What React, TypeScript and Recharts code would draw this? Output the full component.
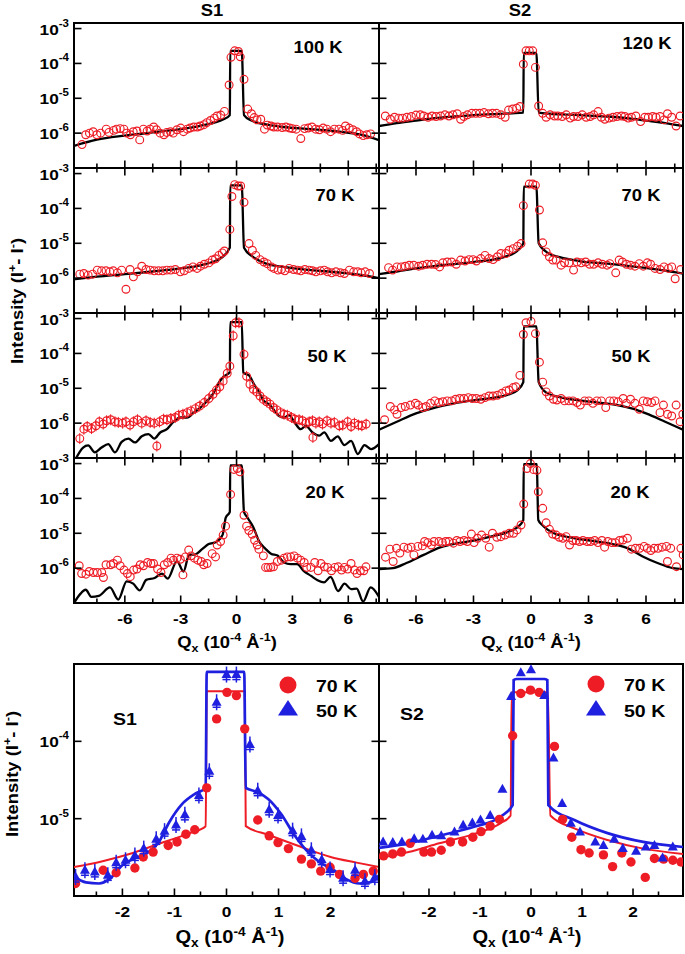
import React from "react";
import { ComposedChart, Line, Scatter, XAxis, YAxis, ReferenceArea } from "recharts";

const FONT = "'Liberation Sans', Arial, Helvetica, sans-serif";
const RED = "#ee1c25";
const BLUE = "#1f1fe0";
const SX = 1.15; // lettering in the original is a little wide

// ---------- S1, 100 K ----------
const s1_100K_qx = [-8.3, -8.1, -7.9, -7.7, -7.5, -7.3, -7.0, -6.85, -6.6, -6.45, -6.25, -6.05, -5.9, -5.7, -5.55, -5.35, -5.2, -5.0, -4.8, -4.65, -4.45, -4.3, -4.1, -3.9, -3.75, -3.55, -3.4, -3.2, -3.0, -2.85, -2.65, -2.5, -2.3, -2.1, -1.95, -1.75, -1.6, -1.4, -1.2, -1.05, -0.85, -0.65, -0.4, -0.3, -0.1, 0.1, 0.2, 0.4, 0.6, 0.8, 0.95, 1.1, 1.3, 1.5, 1.65, 1.85, 2.0, 2.2, 2.45, 2.65, 2.85, 3.0, 3.2, 3.45, 3.65, 3.85, 4.05, 4.25, 4.45, 4.65, 4.85, 5.05, 5.25, 5.5, 5.7, 5.85, 6.05, 6.25, 6.45, 6.6, 6.8, 7.0, 7.2];
const s1_100K_int = [4.7e-7, 9e-7, 1.0e-6, 1.1e-6, 9e-7, 1.0e-6, 1.3e-6, 1.05e-6, 1.2e-6, 1.3e-6, 1.35e-6, 1.3e-6, 1.0e-6, 9e-7, 1.1e-6, 1.15e-6, 6.4e-7, 1.3e-6, 1.15e-6, 1.3e-6, 1.5e-6, 1.25e-6, 1.0e-6, 9e-7, 1.05e-6, 1.1e-6, 1.0e-6, 1.25e-6, 1.4e-6, 1.1e-6, 1.3e-6, 1.4e-6, 1.5e-6, 1.5e-6, 1.6e-6, 1.75e-6, 2.0e-6, 2.3e-6, 2.7e-6, 3.1e-6, 3.3e-6, 4.2e-6, 2.4e-5, 1.5e-4, 2.3e-4, 2.2e-4, 1.55e-4, 3.5e-5, 4.9e-6, 3.6e-6, 2.8e-6, 2.4e-6, 2.5e-6, 1.3e-6, 1.7e-6, 1.6e-6, 1.5e-6, 1.5e-6, 1.45e-6, 1.5e-6, 1.4e-6, 1.35e-6, 1.3e-6, 7e-7, 1.35e-6, 1.4e-6, 1.5e-6, 1.3e-6, 1.25e-6, 1.4e-6, 1.3e-6, 1.1e-6, 1.3e-6, 1.3e-6, 1.2e-6, 1.6e-6, 1.4e-6, 1.25e-6, 1.1e-6, 9.5e-7, 8.5e-7, 9e-7, 9.5e-7];
const s1_100K_fitQx = [-8.73, -7.5, -6, -4.5, -3, -2, -1.2, -0.7, -0.36, -0.34, 0.28, 0.4, 0.8, 1.5, 2.5, 4, 5.5, 6.8, 7.65];
const s1_100K_fit = [4.3e-7, 6.5e-7, 8.5e-7, 1.05e-6, 1.3e-6, 1.6e-6, 2.0e-6, 2.5e-6, 3.3e-6, 2.3e-4, 2.3e-4, 3.3e-6, 2.3e-6, 1.8e-6, 1.5e-6, 1.3e-6, 1.1e-6, 8.8e-7, 6.3e-7];

// ---------- S2, 120 K ----------
const s2_120K_qx = [-7.6, -7.34, -7.12, -6.9, -6.7, -6.47, -6.24, -6.0, -5.77, -5.6, -5.37, -5.16, -4.95, -4.72, -4.49, -4.28, -4.07, -3.85, -3.67, -3.5, -3.32, -3.09, -2.88, -2.67, -2.45, -2.22, -2.01, -1.8, -1.57, -1.35, -1.17, -0.96, -0.75, -0.58, -0.4, -0.26, -0.09, 0.09, 0.23, 0.4, 0.61, 0.79, 1.0, 1.22, 1.4, 1.63, 1.84, 2.05, 2.22, 2.45, 2.67, 2.88, 3.09, 3.27, 3.5, 3.67, 3.85, 4.07, 4.28, 4.49, 4.72, 4.9, 5.07, 5.24, 5.47, 5.72, 5.94, 6.12, 6.35, 6.52, 6.73, 6.94, 7.12, 7.34, 7.57, 7.78];
const s2_120K_int = [3.1e-6, 2.5e-6, 2.85e-6, 2.7e-6, 2.7e-6, 2.85e-6, 3.0e-6, 3.3e-6, 3.35e-6, 3.1e-6, 2.85e-6, 3.1e-6, 3.0e-6, 3.1e-6, 3.35e-6, 3.1e-6, 3.35e-6, 3.6e-6, 2.5e-6, 3.0e-6, 3.35e-6, 3.7e-6, 3.7e-6, 3.7e-6, 3.9e-6, 3.6e-6, 3.7e-6, 3.7e-6, 3.35e-6, 2.85e-6, 4.6e-6, 4.9e-6, 5.2e-6, 5.8e-6, 9.5e-5, 2.3e-4, 2.3e-4, 2.3e-4, 7.7e-5, 6.0e-6, 3.7e-6, 2.85e-6, 3.35e-6, 3.1e-6, 3.1e-6, 3.0e-6, 3.35e-6, 2.7e-6, 3.0e-6, 3.0e-6, 3.35e-6, 2.85e-6, 3.0e-6, 3.35e-6, 4.15e-6, 2.85e-6, 2.5e-6, 2.7e-6, 2.85e-6, 3.0e-6, 3.1e-6, 3.0e-6, 2.7e-6, 2.85e-6, 3.1e-6, 2.15e-6, 2.85e-6, 2.85e-6, 3.0e-6, 2.85e-6, 3.0e-6, 2.4e-6, 3.6e-6, 2.85e-6, 1.6e-6, 3.1e-6];
const s2_120K_fitQx = [-7.93, -7, -6, -5, -4, -3, -2, -1, -0.4, -0.38, 0.28, 0.4, 1, 2, 3, 4, 5, 6, 7, 7.93];
const s2_120K_fit = [1.6e-6, 1.95e-6, 2.3e-6, 2.7e-6, 3.0e-6, 3.3e-6, 3.5e-6, 3.7e-6, 3.9e-6, 2.0e-4, 2.0e-4, 3.9e-6, 3.6e-6, 3.4e-6, 3.2e-6, 3.0e-6, 2.7e-6, 2.3e-6, 1.95e-6, 1.6e-6];

// ---------- S1, 70 K ----------
const s1_70K_qx = [-8.42, -8.2, -7.97, -7.73, -7.48, -7.25, -7.01, -6.8, -6.62, -6.4, -6.17, -5.94, -5.72, -5.54, -5.32, -5.09, -4.86, -4.64, -4.42, -4.19, -3.96, -3.74, -3.53, -3.29, -3.02, -2.81, -2.57, -2.34, -2.12, -1.94, -1.73, -1.49, -1.31, -1.13, -0.95, -0.77, -0.65, -0.36, -0.25, -0.1, 0.08, 0.22, 0.4, 0.67, 0.85, 1.03, 1.26, 1.47, 1.65, 1.87, 2.01, 2.23, 2.41, 2.59, 2.82, 3.06, 3.27, 3.45, 3.67, 3.9, 4.08, 4.26, 4.5, 4.71, 4.89, 5.11, 5.34, 5.58, 5.79, 6.06, 6.29, 6.51, 6.69, 6.91, 7.14];
const s1_70K_int = [1.3e-6, 1.36e-6, 1.22e-6, 1.3e-6, 1.7e-6, 1.62e-6, 1.62e-6, 1.52e-6, 1.62e-6, 1.42e-6, 1.7e-6, 4.8e-7, 1.77e-6, 1.09e-6, 1.52e-6, 2.2e-6, 1.77e-6, 1.7e-6, 1.62e-6, 1.62e-6, 1.62e-6, 1.7e-6, 1.7e-6, 1.77e-6, 1.52e-6, 1.62e-6, 1.9e-6, 2.1e-6, 1.9e-6, 2.2e-6, 2.5e-6, 2.74e-6, 3.3e-6, 3.6e-6, 4.5e-6, 5.3e-6, 6.0e-6, 2.5e-5, 2.2e-4, 4.8e-4, 4.4e-4, 4.4e-4, 1.5e-4, 9.8e-6, 6.3e-6, 4.5e-6, 3.4e-6, 2.9e-6, 2.6e-6, 2.1e-6, 1.9e-6, 1.7e-6, 1.77e-6, 1.62e-6, 1.9e-6, 1.77e-6, 1.7e-6, 1.62e-6, 1.77e-6, 1.7e-6, 1.62e-6, 1.52e-6, 1.62e-6, 1.7e-6, 1.52e-6, 1.42e-6, 1.52e-6, 1.42e-6, 1.36e-6, 1.7e-6, 1.52e-6, 1.52e-6, 1.42e-6, 1.52e-6, 1.36e-6];
const s1_70K_fitQx = [-8.73, -7.5, -6, -4.5, -3, -2, -1.3, -0.8, -0.36, -0.34, 0.28, 0.4, 0.9, 1.6, 2.5, 4, 5.5, 6.8, 7.65];
const s1_70K_fit = [9.3e-7, 1.1e-6, 1.3e-6, 1.55e-6, 1.9e-6, 2.3e-6, 2.9e-6, 3.9e-6, 7.5e-6, 4.6e-4, 4.6e-4, 7.5e-6, 4.0e-6, 2.6e-6, 2.1e-6, 1.7e-6, 1.45e-6, 1.2e-6, 1.0e-6];

// ---------- S2, 70 K ----------
const s2_70K_qx = [-7.43, -7.22, -6.99, -6.77, -6.56, -6.35, -6.12, -5.86, -5.65, -5.42, -5.19, -4.98, -4.77, -4.6, -4.37, -4.14, -3.9, -3.67, -3.44, -3.23, -3.02, -2.85, -2.62, -2.4, -2.19, -1.98, -1.75, -1.57, -1.31, -1.14, -0.93, -0.7, -0.52, -0.4, -0.09, 0.09, 0.23, 0.44, 0.61, 0.79, 0.96, 1.14, 1.31, 1.57, 1.75, 1.98, 2.22, 2.4, 2.62, 2.85, 3.06, 3.27, 3.5, 3.72, 3.97, 4.11, 4.42, 4.6, 4.77, 4.98, 5.19, 5.42, 5.65, 5.86, 6.07, 6.24, 6.47, 6.73, 6.94, 7.17, 7.34, 7.52, 7.81];
const s2_70K_int = [2.0e-6, 1.7e-6, 2.1e-6, 2.1e-6, 2.2e-6, 2.35e-6, 2.35e-6, 2.2e-6, 2.35e-6, 2.5e-6, 2.5e-6, 2.45e-6, 2.1e-6, 2.75e-6, 2.9e-6, 2.9e-6, 2.5e-6, 3.3e-6, 3.1e-6, 3.4e-6, 3.4e-6, 3.1e-6, 3.65e-6, 4.5e-6, 3.65e-6, 3.4e-6, 4.1e-6, 5.1e-6, 5.1e-6, 6.3e-6, 7.0e-6, 8.2e-6, 9.8e-6, 1.2e-4, 5.0e-4, 5.0e-4, 4.6e-4, 9.0e-5, 1.03e-5, 5.65e-6, 4.1e-6, 3.3e-6, 3.3e-6, 2.35e-6, 2.75e-6, 2.75e-6, 1.7e-6, 2.9e-6, 2.75e-6, 2.9e-6, 2.5e-6, 2.5e-6, 2.75e-6, 2.5e-6, 2.35e-6, 2.6e-6, 1.42e-6, 3.3e-6, 2.9e-6, 2.5e-6, 2.35e-6, 2.2e-6, 2.6e-6, 2.2e-6, 2.75e-6, 2.5e-6, 1.9e-6, 1.77e-6, 2.1e-6, 1.9e-6, 2.1e-6, 9.6e-7, 1.77e-6];
const s2_70K_fitQx = [-7.93, -7, -6, -4.5, -3, -2, -1.3, -0.8, -0.4, -0.38, 0.28, 0.4, 0.9, 1.5, 2.5, 4, 5.5, 6.8, 7.93];
const s2_70K_fit = [1.3e-6, 1.55e-6, 1.9e-6, 2.4e-6, 2.9e-6, 3.4e-6, 4.2e-6, 5.6e-6, 1.0e-5, 4.2e-4, 4.2e-4, 1.0e-5, 5.2e-6, 4.0e-6, 3.1e-6, 2.6e-6, 2.1e-6, 1.7e-6, 1.35e-6];

// ---------- S1, 50 K ----------
const s1_50K_qx = [-8.42, -8.2, -8.02, -7.79, -7.55, -7.37, -7.16, -6.98, -6.76, -6.53, -6.35, -6.12, -5.94, -5.72, -5.54, -5.32, -5.09, -4.86, -4.64, -4.42, -4.28, -4.14, -3.92, -3.74, -3.53, -3.29, -3.11, -2.88, -2.66, -2.45, -2.21, -1.98, -1.73, -1.49, -1.26, -1.08, -0.9, -0.72, -0.5, -0.36, -0.18, -0.05, 0.13, 0.4, 0.54, 0.72, 0.9, 1.08, 1.26, 1.44, 1.62, 1.8, 1.98, 2.16, 2.37, 2.55, 2.73, 2.95, 3.13, 3.36, 3.54, 3.72, 3.9, 4.08, 4.1, 4.26, 4.44, 4.62, 4.86, 5.07, 5.25, 5.52, 5.7, 5.97, 6.15, 6.33, 6.55, 6.73, 6.96];
const s1_50K_int = [3.6e-7, 6.7e-7, 8.0e-7, 7.0e-7, 8.4e-7, 1.09e-6, 9.4e-7, 1.17e-6, 1.25e-6, 1.09e-6, 1.05e-6, 1.0e-6, 1.09e-6, 8.8e-7, 1.09e-6, 1.25e-6, 1.0e-6, 1.17e-6, 1.05e-6, 1.0e-6, 2.2e-7, 1.09e-6, 1.3e-6, 1.25e-6, 1.36e-6, 1.45e-6, 1.69e-6, 1.8e-6, 2.0e-6, 2.25e-6, 2.6e-6, 3.1e-6, 3.9e-6, 5.1e-6, 6.7e-6, 8.9e-6, 1.1e-5, 1.6e-5, 2.7e-5, 4.3e-5, 3.2e-4, 7.6e-4, 7.6e-4, 9.4e-5, 2.2e-5, 1.3e-5, 9.4e-6, 7.9e-6, 6.0e-6, 4.8e-6, 4.1e-6, 3.5e-6, 2.8e-6, 2.4e-6, 2.0e-6, 1.8e-6, 1.69e-6, 1.45e-6, 1.3e-6, 1.25e-6, 1.17e-6, 1.0e-6, 1.09e-6, 1.17e-6, 3.9e-7, 1.0e-6, 1.09e-6, 9.4e-7, 1.17e-6, 1.0e-6, 1.05e-6, 8.4e-7, 8.8e-7, 1.09e-6, 8.0e-7, 1.0e-6, 8.8e-7, 8.4e-7, 9.4e-7];
const s1_50K_fitQx = [-8.73, -8.24, -7.97, -7.61, -7.25, -6.89, -6.53, -6.17, -5.81, -5.45, -5.09, -4.73, -4.42, -4.1, -3.74, -3.38, -3.02, -2.66, -2.3, -1.94, -1.58, -1.22, -0.95, -0.68, -0.36, -0.34, 0.28, 0.36, 0.67, 0.94, 1.2, 1.47, 1.74, 2.01, 2.28, 2.55, 2.82, 3.09, 3.45, 3.72, 4.08, 4.44, 4.71, 5.07, 5.43, 5.79, 6.15, 6.51, 6.87, 7.23, 7.65];
const s1_50K_fit = [7.6e-8, 2.0e-7, 2.3e-7, 1.45e-7, 2.0e-7, 2.5e-7, 1.45e-7, 2.9e-7, 3.6e-7, 2.8e-7, 4.2e-7, 4.85e-7, 3.6e-7, 5.4e-7, 6.7e-7, 1.1e-6, 1.45e-6, 1.45e-6, 2.0e-6, 2.8e-6, 4.3e-6, 7.5e-6, 1.45e-5, 2.2e-5, 2.9e-5, 7.9e-4, 7.9e-4, 2.8e-5, 2.35e-5, 1.3e-5, 7.9e-6, 4.3e-6, 3.5e-6, 2.4e-6, 1.6e-6, 1.45e-6, 1.7e-6, 1.1e-6, 6.7e-7, 8.4e-7, 5.4e-7, 4.4e-7, 5.4e-7, 3.1e-7, 4.2e-7, 2.35e-7, 3.1e-7, 1.3e-7, 2.35e-7, 1.8e-7, 2.5e-7];

// ---------- S2, 50 K ----------
const s2_50K_qx = [-7.64, -7.34, -7.12, -6.99, -6.77, -6.56, -6.29, -6.03, -5.89, -5.65, -5.47, -5.24, -5.02, -4.81, -4.6, -4.37, -4.14, -3.93, -3.72, -3.5, -3.27, -3.06, -2.85, -2.62, -2.4, -2.19, -1.98, -1.75, -1.52, -1.31, -1.14, -0.93, -0.79, -0.58, -0.4, -0.26, 0.0, 0.23, 0.44, 0.61, 0.79, 0.96, 1.17, 1.35, 1.57, 1.75, 1.98, 2.19, 2.4, 2.57, 2.8, 3.02, 3.23, 3.44, 3.67, 3.9, 4.11, 4.32, 4.55, 4.81, 4.98, 5.19, 5.42, 5.65, 5.86, 6.07, 6.29, 6.47, 6.73, 6.91, 7.12, 7.34, 7.57, 7.78, 7.92];
const s2_50K_int = [1.25e-6, 3.0e-6, 2.4e-6, 1.8e-6, 2.8e-6, 3.0e-6, 3.3e-6, 3.7e-6, 3.3e-6, 2.8e-6, 3.0e-6, 3.7e-6, 4.35e-6, 3.9e-6, 4.1e-6, 4.35e-6, 4.35e-6, 4.85e-6, 5.1e-6, 5.1e-6, 5.4e-6, 5.1e-6, 5.1e-6, 4.85e-6, 5.4e-6, 6.0e-6, 6.0e-6, 6.3e-6, 7.2e-6, 8.4e-6, 8.9e-6, 1.05e-5, 1.1e-5, 2.35e-5, 3.5e-4, 7.6e-4, 8.3e-4, 3.7e-4, 5.6e-5, 1.5e-5, 7.9e-6, 6.0e-6, 4.85e-6, 4.6e-6, 5.1e-6, 4.35e-6, 4.35e-6, 4.35e-6, 3.9e-6, 3.3e-6, 4.35e-6, 4.35e-6, 3.7e-6, 4.35e-6, 4.35e-6, 2.8e-6, 4.35e-6, 4.35e-6, 4.1e-6, 5.1e-6, 3.7e-6, 4.85e-6, 3.7e-6, 2.5e-6, 4.35e-6, 4.1e-6, 3.9e-6, 4.35e-6, 2.0e-6, 3.3e-6, 1.8e-6, 1.6e-6, 3.3e-6, 1.1e-6, 1.8e-6];
const s2_50K_fitQx = [-7.93, -7, -6, -5, -4, -3, -2, -1.2, -0.7, -0.4, -0.38, 0.28, 0.4, 0.8, 1.5, 2.5, 3.5, 4.5, 5.3, 6, 7, 7.93];
const s2_50K_fit = [6.5e-7, 1.1e-6, 1.9e-6, 2.8e-6, 3.7e-6, 4.5e-6, 5.3e-6, 6.6e-6, 8.9e-6, 1.5e-5, 6.0e-4, 6.0e-4, 1.5e-5, 7.5e-6, 5.6e-6, 4.5e-6, 3.9e-6, 3.3e-6, 2.6e-6, 1.9e-6, 1.1e-6, 6.5e-7];

// ---------- S1, 20 K ----------
const s1_20K_qx = [-8.45, -8.32, -8.09, -7.91, -7.69, -7.48, -7.24, -7.15, -7.01, -6.76, -6.61, -6.4, -6.25, -6.04, -5.86, -5.71, -5.53, -5.35, -5.17, -5.0, -4.78, -4.6, -4.46, -4.24, -4.06, -3.88, -3.7, -3.52, -3.38, -3.2, -3.02, -2.88, -2.75, -2.57, -2.44, -2.26, -2.08, -1.9, -1.76, -1.58, -1.31, -1.13, -1.04, -0.86, -0.72, -0.59, -0.32, -0.14, 0.04, 0.18, 0.4, 0.54, 0.66, 0.84, 0.97, 1.11, 1.2, 1.44, 1.56, 1.69, 1.83, 1.98, 2.19, 2.41, 2.55, 2.73, 2.91, 3.09, 3.27, 3.45, 3.63, 3.77, 3.99, 4.2, 4.38, 4.53, 4.71, 4.89, 5.1, 5.28, 5.46, 5.64, 5.79, 5.97, 6.15, 6.33, 6.47, 6.65, 6.83, 6.95];
const s1_20K_int = [1.17e-6, 7.0e-7, 6.7e-7, 8.0e-7, 7.5e-7, 7.5e-7, 7.5e-7, 5.4e-7, 1.25e-6, 1.25e-6, 1.36e-6, 1.69e-6, 1.17e-6, 8.8e-7, 7.0e-7, 5.7e-7, 8.8e-7, 9.4e-7, 1.25e-6, 1.17e-6, 1.45e-6, 1.36e-6, 1.36e-6, 9.4e-7, 7.5e-7, 1.25e-6, 1.45e-6, 1.93e-6, 1.69e-6, 1.93e-6, 1.8e-6, 6.4e-7, 2.1e-6, 3.3e-6, 2.25e-6, 1.93e-6, 1.69e-6, 1.55e-6, 1.25e-6, 1.36e-6, 2.6e-6, 2.1e-6, 4.6e-6, 5.8e-6, 8.9e-6, 1.6e-5, 1.3e-4, 6.8e-4, 7.2e-4, 5.8e-4, 3.3e-5, 1.6e-5, 1.2e-5, 9.4e-6, 6.3e-6, 4.6e-6, 3.5e-6, 2.25e-6, 1.05e-6, 1.05e-6, 1.05e-6, 1.09e-6, 1.55e-6, 1.69e-6, 1.93e-6, 2.1e-6, 2.1e-6, 2.25e-6, 1.93e-6, 1.69e-6, 1.45e-6, 1.05e-6, 1.05e-6, 1.45e-6, 8.4e-7, 1.36e-6, 1.09e-6, 1.05e-6, 8.4e-7, 1.05e-6, 1.09e-6, 8.8e-7, 1.05e-6, 9.4e-7, 1.36e-6, 8.8e-7, 7.0e-7, 8.4e-7, 8.4e-7, 1.09e-6];
const s1_20K_fitQx = [-8.73, -8.4, -8.1, -7.8, -7.4, -6.8, -6.35, -5.9, -5.55, -5.2, -4.85, -4.4, -4.0, -3.7, -3.2, -2.85, -2.55, -2.2, -1.85, -1.5, -1.1, -0.75, -0.58, -0.36, -0.34, 0.28, 0.4, 0.55, 0.9, 1.2, 1.55, 1.85, 2.2, 2.55, 2.9, 3.25, 3.6, 4.0, 4.35, 4.7, 5.05, 5.45, 5.8, 6.15, 6.45, 6.8, 7.2, 7.65];
const s1_20K_fit = [1.0e-7, 1.8e-7, 2.4e-7, 1.5e-7, 1.6e-7, 2.8e-7, 1.25e-7, 4.2e-7, 3.6e-7, 2.3e-7, 4.6e-7, 5.2e-7, 7.0e-7, 5.0e-7, 1.6e-6, 8.0e-7, 2.4e-6, 2.5e-6, 3.5e-6, 4.9e-6, 5.6e-6, 9.0e-6, 2.8e-5, 4.1e-5, 8.9e-4, 8.9e-4, 4.1e-5, 3.0e-5, 1.5e-5, 6.0e-6, 3.6e-6, 2.6e-6, 2.3e-6, 1.45e-6, 1.3e-6, 1.3e-6, 8.4e-7, 6.0e-7, 4.5e-7, 3.9e-7, 5.6e-7, 2.2e-7, 3.6e-7, 2.5e-7, 2.6e-7, 1.1e-7, 2.8e-7, 1.5e-7];

// ---------- S2, 20 K ----------
const s2_20K_qx = [-7.59, -7.36, -7.19, -7.02, -6.84, -6.63, -6.42, -6.25, -6.11, -5.9, -5.67, -5.55, -5.38, -5.2, -5.06, -4.8, -4.62, -4.45, -4.28, -4.05, -3.87, -3.7, -3.49, -3.32, -3.11, -2.97, -2.79, -2.58, -2.36, -2.18, -2.01, -1.78, -1.57, -1.36, -1.13, -0.91, -0.73, -0.52, -0.38, -0.21, -0.03, 0.14, 0.31, 0.38, 0.61, 0.79, 0.96, 1.13, 1.31, 1.48, 1.66, 1.83, 2.01, 2.18, 2.36, 2.53, 2.71, 2.93, 3.11, 3.32, 3.49, 3.7, 3.84, 4.01, 4.22, 4.4, 4.62, 4.8, 5.03, 5.24, 5.45, 5.67, 5.9, 6.07, 6.25, 6.42, 6.63, 6.84, 7.07, 7.12, 7.29, 7.59, 7.82, 7.94];
const s2_20K_int = [2.06e-6, 3.5e-6, 1.55e-6, 3.7e-6, 2.7e-6, 4.0e-6, 3.7e-6, 4.0e-6, 2.4e-6, 4.2e-6, 4.35e-6, 5.8e-6, 5.4e-6, 4.6e-6, 5.8e-6, 5.8e-6, 5.4e-6, 5.8e-6, 5.8e-6, 5.2e-6, 6.2e-6, 5.8e-6, 6.2e-6, 5.8e-6, 9.5e-6, 5.4e-6, 7.2e-6, 8.9e-6, 7.2e-6, 4.0e-6, 1.0e-5, 7.7e-6, 8.0e-6, 8.9e-6, 1.0e-5, 1.0e-5, 1.25e-5, 1.73e-5, 6.9e-5, 7.2e-4, 1.0e-3, 6.7e-4, 6.4e-4, 1.55e-4, 5.2e-5, 2.0e-5, 1.3e-5, 9.5e-6, 8.9e-6, 7.7e-6, 7.2e-6, 8.0e-6, 4.6e-6, 6.2e-6, 6.2e-6, 5.8e-6, 6.2e-6, 5.8e-6, 5.8e-6, 6.2e-6, 5.4e-6, 6.2e-6, 4.0e-6, 5.8e-6, 5.4e-6, 5.4e-6, 6.2e-6, 6.4e-6, 7.2e-6, 3.5e-6, 3.7e-6, 3.7e-6, 4.2e-6, 3.7e-6, 3.2e-6, 3.7e-6, 3.7e-6, 4.0e-6, 4.2e-6, 1.55e-6, 3.7e-6, 1.1e-6, 3.7e-6, 2.4e-6];
const s2_20K_fitQx = [-7.93, -7.2, -6.5, -5.6, -4.7, -3.8, -3, -2.1, -1.2, -0.7, -0.4, -0.38, 0.3, 0.38, 0.6, 1.2, 2.3, 3.1, 4, 5, 5.8, 6.6, 7.4, 7.93];
const s2_20K_fit = [9.4e-7, 1.0e-6, 1.4e-6, 2.4e-6, 4.0e-6, 5.2e-6, 6.2e-6, 8.0e-6, 1.1e-5, 1.5e-5, 2.4e-5, 9.6e-4, 9.6e-4, 2.4e-5, 1.7e-5, 1.0e-5, 7.2e-6, 6.2e-6, 5.2e-6, 3.8e-6, 2.2e-6, 1.4e-6, 1.0e-6, 9.4e-7];

// ---------- bottom: S1, 70 K and 50 K ----------
const b_s1_70K_qx = [-2.9, -2.37, -2.12, -1.76, -1.6, -1.41, -1.12, -0.95, -0.78, -0.61, -0.38, -0.19, 0.01, 0.19, 0.35, 0.6, 0.82, 0.99, 1.19, 1.44, 1.63, 1.81, 1.99, 2.17, 2.47, 2.63, 2.82];
const b_s1_70K_int = [1.45e-6, 2.15e-6, 2.0e-6, 2.3e-6, 3.2e-6, 3.7e-6, 4.5e-6, 5.0e-6, 6.3e-6, 7.2e-6, 2.5e-5, 1.95e-4, 4.3e-4, 3.9e-4, 1.45e-4, 9.6e-6, 6.0e-6, 4.9e-6, 4.1e-6, 3.0e-6, 2.6e-6, 2.1e-6, 2.35e-6, 1.9e-6, 1.7e-6, 1.9e-6, 2.1e-6];
const b_s1_50K_qx = [-2.9, -2.72, -2.53, -2.28, -2.12, -1.94, -1.76, -1.59, -1.35, -1.19, -0.97, -0.8, -0.53, -0.33, -0.19, 0.0, 0.19, 0.45, 0.6, 0.82, 0.99, 1.27, 1.44, 1.63, 1.83, 1.99, 2.24, 2.47, 2.66, 2.85];
const b_s1_50K_int = [1.76e-6, 2.15e-6, 2.05e-6, 1.85e-6, 2.7e-6, 2.9e-6, 3.35e-6, 4.1e-6, 5.4e-6, 6.9e-6, 8.3e-6, 1.12e-5, 2.0e-5, 4.1e-5, 3.2e-4, 7.3e-4, 7.3e-4, 9.1e-5, 2.3e-5, 1.3e-5, 1.1e-5, 7.0e-6, 5.9e-6, 3.9e-6, 2.95e-6, 2.2e-6, 1.7e-6, 2.15e-6, 1.55e-6, 1.75e-6];
const b_s1_70K_fitQx = [-2.95, -2.4, -1.8, -1.2, -0.7, -0.4, -0.38, 0.35, 0.37, 0.8, 1.4, 2.0, 2.5, 2.95];
const b_s1_70K_fit = [2.35e-6, 2.8e-6, 3.6e-6, 5.0e-6, 6.5e-6, 8.0e-6, 4.45e-4, 4.45e-4, 8.0e-6, 6.2e-6, 4.4e-6, 3.2e-6, 2.7e-6, 2.35e-6];
const b_s1_50K_fitQx = [-2.95, -2.7, -2.45, -2.25, -2.0, -1.75, -1.5, -1.3, -1.1, -0.85, -0.6, -0.4, -0.38, 0.34, 0.37, 0.6, 0.8, 1.05, 1.3, 1.55, 1.8, 2.05, 2.3, 2.55, 2.75, 2.95];
const b_s1_50K_fit = [1.8e-6, 1.5e-6, 1.45e-6, 1.65e-6, 2.5e-6, 3.1e-6, 3.7e-6, 5.0e-6, 9.0e-6, 1.55e-5, 2.1e-5, 2.5e-5, 7.9e-4, 7.9e-4, 2.5e-5, 2.2e-5, 1.8e-5, 1.15e-5, 6.2e-6, 3.8e-6, 2.7e-6, 2.2e-6, 1.65e-6, 1.45e-6, 1.5e-6, 1.9e-6];

// ---------- bottom: S2, 70 K and 50 K ----------
const b_s2_70K_qx = [-2.89, -2.71, -2.54, -2.37, -2.1, -1.95, -1.76, -1.58, -1.34, -1.14, -0.98, -0.8, -0.62, -0.36, -0.2, -0.01, 0.16, 0.46, 0.62, 0.8, 0.98, 1.14, 1.42, 1.6, 1.78, 1.96, 2.24, 2.42, 2.6, 2.78, 2.94];
const b_s2_70K_int = [3.3e-6, 3.5e-6, 3.7e-6, 4.8e-6, 3.7e-6, 3.7e-6, 3.9e-6, 5.0e-6, 5.0e-6, 5.75e-6, 6.8e-6, 8.0e-6, 9.8e-6, 1.18e-4, 4.15e-4, 4.6e-4, 4.3e-4, 8.6e-5, 9.8e-6, 5.75e-6, 3.97e-6, 3.6e-6, 3.4e-6, 2.4e-6, 3.6e-6, 2.75e-6, 1.74e-6, 3.05e-6, 3.0e-6, 2.9e-6, 2.75e-6];
const b_s2_50K_qx = [-2.9, -2.71, -2.53, -2.29, -2.12, -1.94, -1.76, -1.5, -1.33, -1.15, -0.99, -0.8, -0.56, -0.39, -0.2, 0.0, 0.26, 0.44, 0.61, 0.78, 0.96, 1.26, 1.42, 1.63, 1.8, 2.06, 2.25, 2.42, 2.58, 2.78];
const b_s2_50K_int = [5.0e-6, 4.9e-6, 5.0e-6, 5.5e-6, 5.4e-6, 6.1e-6, 6.0e-6, 6.7e-6, 8.2e-6, 8.8e-6, 9.6e-6, 1.1e-5, 2.4e-5, 3.8e-4, 7.7e-4, 8.4e-4, 3.9e-4, 6.1e-5, 1.57e-5, 8.7e-6, 6.7e-6, 5.0e-6, 4.5e-6, 5.4e-6, 4.1e-6, 3.8e-6, 4.3e-6, 4.5e-6, 3.1e-6, 4.3e-6];
const b_s2_70K_fitQx = [-2.98, -2.4, -1.8, -1.1, -0.6, -0.4, -0.38, 0.33, 0.38, 0.85, 1.5, 2.2, 2.98];
const b_s2_70K_fit = [3.1e-6, 3.7e-6, 4.8e-6, 6.4e-6, 8.7e-6, 1.1e-5, 4.3e-4, 4.3e-4, 1.1e-5, 7.5e-6, 5.3e-6, 4.1e-6, 3.5e-6];
const b_s2_50K_fitQx = [-2.98, -2.4, -1.8, -1.1, -0.6, -0.36, -0.34, -0.28, 0.26, 0.32, 0.34, 0.85, 1.5, 2.2, 2.98];
const b_s2_50K_fit = [4.2e-6, 4.8e-6, 6.0e-6, 7.9e-6, 1.06e-5, 1.5e-5, 6.2e-4, 6.4e-4, 6.4e-4, 6.2e-4, 1.5e-5, 9.6e-6, 6.5e-6, 5.0e-6, 4.3e-6];

// ---------- axes ----------
const topXTicks = [-7.5, -6, -4.5, -3, -1.5, 0, 1.5, 3, 4.5, 6, 7.5];
const topXMajor = [-6, -3, 0, 3, 6];
const botXTicks = [-2.5, -2, -1.5, -1, -0.5, 0, 0.5, 1, 1.5, 2, 2.5];
const botXMajor = [-2, -1, 0, 1, 2];
const topYTicks = [1e-6, 1e-5, 1e-4, 1e-3];
const botYTicks = [1e-5, 1e-4];

type Pt = { x: number; y: number };
const zip = (qx: number[], v: number[]): Pt[] =>
  qx.slice(0, v.length).map((x, i) => ({ x, y: v[i] }));

const ML = 64;
const MR = 14;
const MT = 12;
const MB = 60;

const YTick = (p: any) => {
  const { x, y, payload, plotW, labels, right } = p;
  const exp = Math.round(Math.log10(payload.value));
  return (
    <g>
      <line x1={x} x2={x + 7.5} y1={y} y2={y} stroke="#000" strokeWidth={1.6} />
      {right && <line x1={x + plotW} x2={x + plotW - 7.5} y1={y} y2={y} stroke="#000" strokeWidth={1.6} />}
      {labels && (
        <text
          transform={`translate(${x - 5},${y + 6}) scale(${SX},1)`}
          textAnchor="end"
          fontFamily={FONT}
          fontWeight="bold"
          fontSize={15}
          fill="#000"
        >
          10<tspan dy={-8} fontSize={10}>{exp}</tspan>
        </text>
      )}
    </g>
  );
};

const XTick = (p: any) => {
  const { x, y, payload, plotH, labels, top, major } = p;
  const isMajor = major.includes(payload.value);
  const len = isMajor ? 7.5 : 4.5;
  return (
    <g>
      <line x1={x} x2={x} y1={y} y2={y - len} stroke="#000" strokeWidth={1.6} />
      {top && <line x1={x} x2={x} y1={y - plotH} y2={y - plotH + len} stroke="#000" strokeWidth={1.6} />}
      {labels && isMajor && (
        <text
          transform={`translate(${x},${y + 21}) scale(${SX},1)`}
          textAnchor="middle"
          fontFamily={FONT}
          fontWeight="bold"
          fontSize={15}
          fill="#000"
        >
          {payload.value}
        </text>
      )}
    </g>
  );
};

const openCircle = (p: any) => (
  <circle cx={p.cx} cy={p.cy} r={3.9} fill="none" stroke={RED} strokeWidth={1.15} />
);
const barCircle = (p: any) => (
  <g>
    <line x1={p.cx} x2={p.cx} y1={p.cy - 5.5} y2={p.cy + 5.5} stroke={RED} strokeWidth={1} />
    <circle cx={p.cx} cy={p.cy} r={3.9} fill="none" stroke={RED} strokeWidth={1.15} />
  </g>
);
const redDot = (p: any) => <circle cx={p.cx} cy={p.cy} r={4.7} fill={RED} />;
const blueTri = (p: any) => (
  <polygon
    points={`${p.cx},${p.cy - 5.5} ${p.cx - 5},${p.cy + 3.5} ${p.cx + 5},${p.cy + 3.5}`}
    fill={BLUE}
  />
);
const blueTriBar = (p: any) => (
  <g>
    <line x1={p.cx} x2={p.cx} y1={p.cy - 8} y2={p.cy + 8} stroke={BLUE} strokeWidth={1.5} />
    <line x1={p.cx - 4} x2={p.cx + 4} y1={p.cy + 5} y2={p.cy + 5} stroke={BLUE} strokeWidth={1.5} />
    {blueTri(p)}
  </g>
);

type PanelProps = {
  left: number;
  top: number;
  w: number;
  h: number;
  xDomain: [number, number];
  yDomain: [number, number];
  xTicks: number[];
  xMajor: number[];
  yTicks: number[];
  yLabels: boolean;
  xLabels: boolean;
  rightTicks: boolean;
  topTicks: boolean;
  series: React.ReactNode[];
};

const Panel = (props: PanelProps) => {
  const { left, top, w, h, xDomain, yDomain, xTicks, xMajor, yTicks, yLabels, xLabels, rightTicks, topTicks, series } = props;
  return (
    <div style={{ position: "absolute", left: left - ML, top: top - MT }}>
      <ComposedChart width={w + ML + MR} height={h + MT + MB} margin={{ top: MT, right: MR, bottom: 0, left: 0 }}>
        <XAxis
          type="number"
          dataKey="x"
          domain={xDomain}
          allowDataOverflow
          ticks={xTicks}
          interval={0}
          height={MB}
          tickSize={0}
          tickMargin={0}
          axisLine={false}
          tickLine={false}
          tick={(t: any) => <XTick {...t} plotH={h} labels={xLabels} top={topTicks} major={xMajor} />}
        />
        <YAxis
          type="number"
          dataKey="y"
          scale="log"
          domain={yDomain}
          allowDataOverflow
          ticks={yTicks}
          interval={0}
          width={ML}
          tickSize={0}
          tickMargin={0}
          axisLine={false}
          tickLine={false}
          tick={(t: any) => <YTick {...t} plotW={w} labels={yLabels} right={rightTicks} />}
        />
        <ReferenceArea
          x1={xDomain[0]}
          x2={xDomain[1]}
          y1={yDomain[0]}
          y2={yDomain[1]}
          fill="none"
          fillOpacity={0}
          stroke="#000"
          strokeWidth={2}
          ifOverflow="visible"
        />
        {series}
      </ComposedChart>
    </div>
  );
};

const fitLine = (key: string, data: Pt[], color: string, width: number) => (
  <Line
    key={key}
    data={data}
    dataKey="y"
    type="monotone"
    stroke={color}
    strokeWidth={width}
    dot={false}
    activeDot={false}
    isAnimationActive={false}
  />
);
const points = (key: string, data: Pt[], shape: any) => (
  <Scatter key={key} data={data} dataKey="y" shape={shape} isAnimationActive={false} />
);

const ROW_TOPS = [23, 168, 313, 458];
const ROW_H = 145;
const Y_TOP: [number, number] = [1e-7, 1.445e-3];
const COLS = {
  L: { left: 74, w: 305, xDomain: [-8.73, 7.65] as [number, number] },
  R: { left: 379, w: 304, xDomain: [-7.93, 7.93] as [number, number] },
};

const topPanels = [
  { col: "L", row: 0, pts: zip(s1_100K_qx, s1_100K_int), fit: zip(s1_100K_fitQx, s1_100K_fit), shape: openCircle },
  { col: "R", row: 0, pts: zip(s2_120K_qx, s2_120K_int), fit: zip(s2_120K_fitQx, s2_120K_fit), shape: openCircle },
  { col: "L", row: 1, pts: zip(s1_70K_qx, s1_70K_int), fit: zip(s1_70K_fitQx, s1_70K_fit), shape: openCircle },
  { col: "R", row: 1, pts: zip(s2_70K_qx, s2_70K_int), fit: zip(s2_70K_fitQx, s2_70K_fit), shape: openCircle },
  { col: "L", row: 2, pts: zip(s1_50K_qx, s1_50K_int), fit: zip(s1_50K_fitQx, s1_50K_fit), shape: barCircle },
  { col: "R", row: 2, pts: zip(s2_50K_qx, s2_50K_int), fit: zip(s2_50K_fitQx, s2_50K_fit), shape: openCircle },
  { col: "L", row: 3, pts: zip(s1_20K_qx, s1_20K_int), fit: zip(s1_20K_fitQx, s1_20K_fit), shape: openCircle },
  { col: "R", row: 3, pts: zip(s2_20K_qx, s2_20K_int), fit: zip(s2_20K_fitQx, s2_20K_fit), shape: openCircle },
];

const T = ({ x, y, size = 16, anchor = "middle", children }: any) => (
  <text
    transform={`translate(${x},${y}) scale(${SX},1)`}
    textAnchor={anchor}
    fontSize={size}
    fontWeight="bold"
    fontFamily={FONT}
    fill="#000"
  >
    {children}
  </text>
);

const QxLabel = ({ x, y, size }: { x: number; y: number; size: number }) => (
  <T x={x} y={y} size={size}>
    Q<tspan dy={4} fontSize={size * 0.68}>x</tspan>
    <tspan dy={-4}> (10</tspan>
    <tspan dy={-7} fontSize={size * 0.68}>-4</tspan>
    <tspan dy={7}> Å</tspan>
    <tspan dy={-7} fontSize={size * 0.68}>-1</tspan>
    <tspan dy={7}>)</tspan>
  </T>
);

const YLabel = ({ x, y }: { x: number; y: number }) => (
  <text
    transform={`translate(${x},${y}) rotate(-90) scale(${SX},1)`}
    textAnchor="middle"
    fontSize={16}
    fontWeight="bold"
    fontFamily={FONT}
    fill="#000"
  >
    Intensity (I<tspan dy={-7} fontSize={11}>+</tspan>
    <tspan dy={7}>- I</tspan>
    <tspan dy={-7} fontSize={11}>-</tspan>
    <tspan dy={7}>)</tspan>
  </text>
);

const Legend2 = ({ x, y1, y2 }: { x: number; y1: number; y2: number }) => (
  <g>
    <circle cx={x} cy={y1} r={8.5} fill={RED} />
    <polygon points={`${x},${y2 - 9} ${x - 10},${y2 + 6.5} ${x + 10},${y2 + 6.5}`} fill={BLUE} />
    <T x={x + 28} y={y1 + 6.5} size={17} anchor="start">70 K</T>
    <T x={x + 28} y={y2 + 7.5} size={17} anchor="start">50 K</T>
  </g>
);

export default function App() {
  return (
    <div style={{ position: "absolute", left: 0, top: 0, width: 685, height: 954, background: "#fff", overflow: "hidden" }}>
      {topPanels.map((p, i) => {
        const c = COLS[p.col as "L" | "R"];
        return (
          <Panel
            key={i}
            left={c.left}
            top={ROW_TOPS[p.row]}
            w={c.w}
            h={ROW_H}
            xDomain={c.xDomain}
            yDomain={Y_TOP}
            xTicks={topXTicks}
            xMajor={topXMajor}
            yTicks={topYTicks}
            yLabels={p.col === "L"}
            xLabels={p.row === 3}
            rightTicks={p.col === "L"}
            topTicks={p.row > 0}
            series={[points("pts", p.pts, p.shape), fitLine("fit", p.fit, "#000", 2.3)]}
          />
        );
      })}

      <Panel
        left={74}
        top={664}
        w={305}
        h={232}
        xDomain={[-2.93, 2.93]}
        yDomain={[1e-6, 1e-3]}
        xTicks={botXTicks}
        xMajor={botXMajor}
        yTicks={botYTicks}
        yLabels
        xLabels
        rightTicks
        topTicks={false}
        series={[
          fitLine("f70", zip(b_s1_70K_fitQx, b_s1_70K_fit), RED, 2),
          fitLine("f50", zip(b_s1_50K_fitQx, b_s1_50K_fit), BLUE, 2.7),
          points("p70", zip(b_s1_70K_qx, b_s1_70K_int), redDot),
          points("p50", zip(b_s1_50K_qx, b_s1_50K_int), blueTriBar),
        ]}
      />
      <Panel
        left={379}
        top={664}
        w={304}
        h={232}
        xDomain={[-2.98, 2.98]}
        yDomain={[1e-6, 1e-3]}
        xTicks={botXTicks}
        xMajor={botXMajor}
        yTicks={botYTicks}
        yLabels={false}
        xLabels
        rightTicks={false}
        topTicks={false}
        series={[
          fitLine("f70", zip(b_s2_70K_fitQx, b_s2_70K_fit), RED, 2),
          fitLine("f50", zip(b_s2_50K_fitQx, b_s2_50K_fit), BLUE, 2.7),
          points("p70", zip(b_s2_70K_qx, b_s2_70K_int), redDot),
          points("p50", zip(b_s2_50K_qx, b_s2_50K_int), blueTri),
        ]}
      />

      <svg width={685} height={954} style={{ position: "absolute", left: 0, top: 0, pointerEvents: "none" }}>
        <T x={212} y={16}>S1</T>
        <T x={520} y={16}>S2</T>

        <T x={318} y={52.5}>100 K</T>
        <T x={647} y={48.5}>120 K</T>
        <T x={335} y={200.5}>70 K</T>
        <T x={641} y={200.5}>70 K</T>
        <T x={327} y={361.5}>50 K</T>
        <T x={631} y={361.5}>50 K</T>
        <T x={325} y={498}>20 K</T>
        <T x={630} y={498}>20 K</T>

        <YLabel x={23} y={301} />
        <YLabel x={18} y={774} />

        <QxLabel x={227} y={648} size={16} />
        <QxLabel x={531} y={648} size={16} />
        <QxLabel x={230} y={943} size={17.5} />
        <QxLabel x={527} y={943} size={17.5} />

        <T x={113} y={725} size={17} anchor="start">S1</T>
        <T x={400} y={720} size={17} anchor="start">S2</T>
        <Legend2 x={288} y1={685} y2={709} />
        <Legend2 x={596} y1={684} y2={709} />
      </svg>
    </div>
  );
}
